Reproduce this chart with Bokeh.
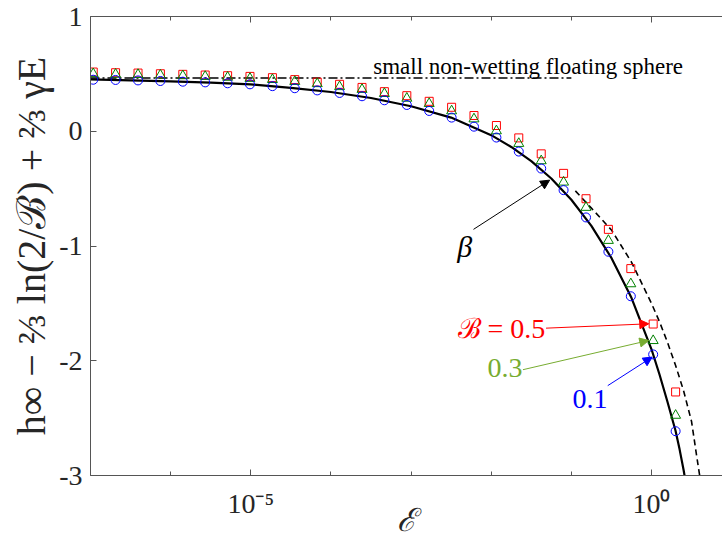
import math
from bokeh.plotting import figure
from bokeh.models import (LogAxis, FixedTicker, Range1d, Arrow, NormalHead, Label,
                          ColumnDataSource, CustomJSTickFormatter)
from bokeh.core.properties import value
from bokeh.embed import file_html
from bokeh.resources import INLINE

# ---------------- data ----------------
# log10 of E at the simulation markers
marker_log10E = [-6.966, -6.687, -6.407, -6.128, -5.848, -5.569, -5.289, -5.010, -4.730,
                 -4.451, -4.171, -3.892, -3.612, -3.333, -3.053, -2.774, -2.494, -2.215,
                 -1.935, -1.656, -1.376, -1.097, -0.817, -0.538, -0.258, 0.021, 0.301]
# B = 0.5 (red squares)
h_B05 = [0.516, 0.510, 0.507, 0.501, 0.496, 0.490, 0.484, 0.478, 0.467, 0.450, 0.428,
         0.409, 0.382, 0.345, 0.310, 0.261, 0.209, 0.137, 0.050, -0.058, -0.197, -0.367,
         -0.588, -0.855, -1.197, -1.680, -2.272]
# B = 0.3 (green triangles)
h_B03 = [0.501, 0.496, 0.494, 0.489, 0.483, 0.477, 0.470, 0.460, 0.450, 0.433, 0.414,
         0.388, 0.364, 0.328, 0.287, 0.241, 0.177, 0.107, 0.003, -0.107, -0.258, -0.444,
         -0.664, -0.952, -1.330, -1.825, -2.476]
# B = 0.1 (blue circles)
h_B01 = [0.449, 0.447, 0.443, 0.438, 0.432, 0.426, 0.418, 0.409, 0.393, 0.375, 0.356,
         0.334, 0.305, 0.270, 0.229, 0.177, 0.119, 0.040, -0.055, -0.177, -0.325, -0.513,
         -0.751, -1.050, -1.438, -1.945, -2.614]

# asymptotic curve beta (solid)
beta_log10E = [-7.0, -6.5, -6.0, -5.5, -5.0, -4.5, -4.0, -3.5, -3.0, -2.5, -2.0, -1.75,
               -1.5, -1.25, -1.0, -0.75, -0.5, -0.25, 0.0, 0.1, 0.2, 0.3, 0.35, 0.4, 0.42]
beta_h = [0.452, 0.444, 0.435, 0.424, 0.408, 0.378, 0.342, 0.290, 0.218, 0.119, -0.034,
          -0.137, -0.261, -0.412, -0.597, -0.825, -1.104, -1.452, -1.900, -2.120, -2.360,
          -2.610, -2.770, -2.950, -3.030]

# second asymptotic curve (dashed)
dash_log10E = [-0.95, -0.75, -0.5, -0.25, 0.0, 0.1, 0.2, 0.3, 0.4, 0.5, 0.57, 0.61]
dash_h = [-0.52, -0.67, -0.86, -1.14, -1.50, -1.66, -1.84, -2.04, -2.26, -2.53, -2.86, -3.04]

# small non-wetting floating sphere limit (dash-dot)
sphere_log10E = [-7.0, -1.0]
sphere_h = [0.465, 0.465]

# axis ticks
x_major_ticks = [1e-5, 1e0]
x_major_labels = ["10⁻⁵", "10⁰"]
x_minor_ticks = [1e-7, 1e-6, 1e-5, 1e-4, 1e-3, 1e-2, 1e-1, 1e0]
y_ticks = [-3, -2, -1, 0, 1]
y_labels = ["-3", "-2", "-1", "0", "1"]

# ---------------- figure ----------------
SERIF = "Liberation Serif"
AXIS_COL = "#555555"
LABEL_COL = "#262626"

def E(v):
    return [10 ** t for t in v]

p = figure(width=722, height=542, x_axis_type="log",
           x_range=Range1d(1e-7, 10 ** 0.886), y_range=Range1d(-3, 1),
           output_backend="svg", toolbar_location=None,
           min_border_left=90, min_border_right=0, min_border_top=16, min_border_bottom=67)
p.outline_line_color = None
p.grid.visible = False
p.background_fill_color = "white"
p.border_fill_color = "white"

xticker = FixedTicker(ticks=x_major_ticks, minor_ticks=x_minor_ticks)
xfmt = CustomJSTickFormatter(args=dict(t=x_major_ticks, l=x_major_labels), code="""
let best = 0, d = 1e99;
for (let i = 0; i < t.length; i++) {
  const dd = Math.abs(Math.log10(t[i]) - Math.log10(tick));
  if (dd < d) { d = dd; best = i; }
}
return l[best];
""")
yfmt = CustomJSTickFormatter(args=dict(t=y_ticks, l=y_labels), code="""
let best = 0, d = 1e99;
for (let i = 0; i < t.length; i++) {
  const dd = Math.abs(t[i] - tick);
  if (dd < d) { d = dd; best = i; }
}
return l[best];
""")

def style_axis(ax):
    ax.axis_line_color = AXIS_COL
    ax.major_tick_line_color = AXIS_COL
    ax.minor_tick_line_color = AXIS_COL
    ax.major_tick_in = 6
    ax.major_tick_out = 0
    ax.minor_tick_in = 4
    ax.minor_tick_out = 0
    ax.major_label_text_font = SERIF
    ax.major_label_text_font_size = "28px"
    ax.major_label_text_color = LABEL_COL

xa = p.xaxis[0]
xa.ticker = xticker
xa.formatter = xfmt
style_axis(xa)
xa.major_label_standoff = 12
xa.axis_label = "ℰ"
xa.axis_label_text_font = SERIF
xa.axis_label_text_font_size = "32px"
xa.axis_label_text_font_style = "italic"
xa.axis_label_text_color = LABEL_COL
xa.axis_label_standoff = -20

ya = p.yaxis[0]
ya.ticker = FixedTicker(ticks=y_ticks, minor_ticks=[])
ya.formatter = yfmt
style_axis(ya)
ya.major_label_standoff = 8
ya.axis_label = "h∞ − ⅔ ln(2/ℬ) + ⅔ γE"
ya.axis_label_text_font = SERIF
ya.axis_label_text_font_size = "40px"
ya.axis_label_text_font_style = "normal"
ya.axis_label_text_color = LABEL_COL
ya.axis_label_standoff = 2

top = LogAxis(ticker=xticker)
style_axis(top)
top.major_label_text_font_size = "1px"
top.major_label_text_color = None
top.major_label_standoff = 0
p.add_layout(top, "above")

# ---------------- curves ----------------
p.line(E(sphere_log10E), sphere_h, line_color="black", line_width=1.5, line_dash="9 3 2 3")
p.line(E(dash_log10E), dash_h, line_color="black", line_width=1.6, line_dash="6 4")
p.line(E(beta_log10E), beta_h, line_color="black", line_width=2.2)

src = ColumnDataSource(dict(E=E(marker_log10E), b05=h_B05, b03=h_B03, b01=h_B01))
p.scatter("E", "b05", source=src, marker="square", size=8, fill_color=None,
          line_color="#ff0000", line_width=1)
p.scatter("E", "b03", source=src, marker="triangle", size=10, fill_color=None,
          line_color="#008000", line_width=1)
p.scatter("E", "b01", source=src, marker="circle", size=9, fill_color=None,
          line_color="#0000ff", line_width=1)

# ---------------- annotations ----------------
p.add_layout(Label(x=10 ** -3.472, y=0.56, text="small non-wetting floating sphere",
                   text_font=SERIF, text_font_size="23px", text_color="black",
                   text_baseline="alphabetic", text_align="left"))

def arrow(x0, y0, x1, y1, col):
    p.add_layout(Arrow(x_start=10 ** x0, y_start=y0, x_end=10 ** x1, y_end=y1,
                       line_color=col, line_width=1,
                       end=NormalHead(size=9, fill_color=col, line_color=col, line_width=1)))

arrow(-2.221, -0.855, -1.271, -0.426, "black")
p.add_layout(Label(x=10 ** -2.33, y=-1.0, text="β", text_font=SERIF,
                   text_font_size="30px", text_font_style="italic", text_color="black",
                   text_align="center", text_baseline="middle"))

arrow(-1.316, -1.716, -0.034, -1.678, "#ff0000")
p.add_layout(Label(x=10 ** -1.325, y=-1.715, text="ℬ = 0.5", text_font=SERIF,
                   text_font_size="28px", text_color="#ff0000",
                   text_align="right", text_baseline="middle"))

arrow(-1.604, -2.078, -0.034, -1.823, "#77ac30")
p.add_layout(Label(x=10 ** -1.61, y=-2.06, text="0.3", text_font=SERIF,
                   text_font_size="28px", text_color="#77ac30",
                   text_align="right", text_baseline="middle"))

arrow(-0.546, -2.217, 0.009, -1.968, "#0000ff")
p.add_layout(Label(x=10 ** -0.55, y=-2.33, text="0.1", text_font=SERIF,
                   text_font_size="28px", text_color="#0000ff",
                   text_align="right", text_baseline="middle"))

open("out.html", "w").write(file_html(p, INLINE))
